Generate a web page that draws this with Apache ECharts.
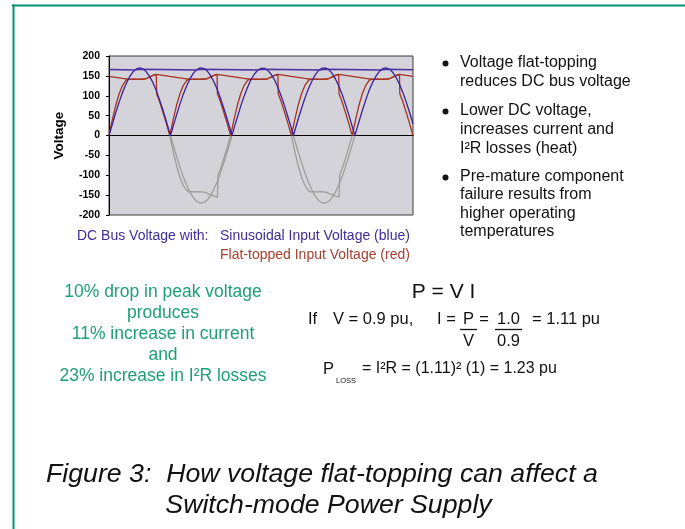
<!DOCTYPE html>
<html>
<head>
<meta charset="utf-8">
<script src="https://cdn.jsdelivr.net/npm/echarts/dist/echarts.min.js"></script>
<style>
html,body{margin:0;padding:0;background:#fff;}
#c{width:685px;height:529px;}
</style>
</head>
<body>
<div id="c"></div>
<script>
// ---------- data (x = phase in degrees of the 60 Hz input, y = volts) ----------
const yTickLabels = ['-200','-150','-100','-50','0','50','100','150','200'];

// rectified sinusoidal input (blue)
const blueInput = [
 [0,0],[10,29],[20,58],[30,84],[40,108],[50,129],[60,146],[70,159],[80,167],[90,170],[100,168],[110,161],[120,149],[130,133],[140,113],[150,89],[160,63],[170,35],[180,6],
 [182,0],[190,23],[200,52],[210,79],[220,104],[230,125],[240,143],[250,157],[260,166],[270,170],[280,169],[290,163],[300,152],[310,136],[320,117],[330,94],[340,68],[350,41],[360,12],
 [364,0],[370,18],[380,46],[390,74],[400,99],[410,121],[420,140],[430,154],[440,164],[450,169],[460,169],[470,164],[480,154],[490,140],[500,121],[510,99],[520,74],[530,46],[540,18],
 [546,0],[550,12],[560,41],[570,68],[580,94],[590,117],[600,136],[610,152],[620,163],[630,169],[640,170],[650,166],[660,157],[670,143],[680,125],[690,104],[700,79],[710,52],[720,23],
 [728,0],[730,6],[740,35],[750,63],[760,89],[770,113],[780,133],[790,149],[800,161],[810,168],[820,170],[830,167],[840,159],[850,146],[860,129],[870,108],[880,84],[890,58],[900,29]
];
// DC bus voltage with sinusoidal input (blue)
const blueBus = [
 [0,166],[78,164.8],[92,166.8],[260,164.8],[274,166.8],[442,164.8],[456,166.8],[624,164.8],[638,166.8],[806,164.8],[820,166.8],[900,165.6]
];
// rectified flat-topped input (red)
const redInput = [
 [0,0],[10,40],[20,76],[30,105],[40,126],[50,138],[57,142],[65,141],[75,142],[85,141],[95,142],[105,142],[112,144],[120,147],[130,151],[140,154],[141,105],[150,85],[160,58],[170,30],
 [180,0],[190,40],[200,76],[210,105],[220,126],[230,138],[237,142],[245,141],[255,142],[265,141],[275,142],[285,142],[292,144],[300,147],[310,151],[320,154],[321,105],[330,85],[340,58],[350,30],
 [360,0],[370,40],[380,76],[390,105],[400,126],[410,138],[417,142],[425,141],[435,142],[445,141],[455,142],[465,142],[472,144],[480,147],[490,151],[500,154],[501,105],[510,85],[520,58],[530,30],
 [540,0],[550,40],[560,76],[570,105],[580,126],[590,138],[597,142],[605,141],[615,142],[625,141],[635,142],[645,142],[652,144],[660,147],[670,151],[680,154],[681,105],[690,85],[700,58],[710,30],
 [720,0],[730,40],[740,76],[750,105],[760,126],[770,138],[777,142],[785,141],[795,142],[805,141],[815,142],[825,142],[832,144],[840,147],[850,151],[860,154],[861,105],[870,85],[880,58],[890,30],[900,0]
];
// DC bus voltage with flat-topped input (red)
const redBus = [
 [0,148.5],[20,146],[40,143.5],[57,141.5],[65,141],[75,142],[85,141],[95,142],[105,142],[112,144],[120,147],[130,151],[140,154],
 [180,148.5],[200,146],[220,143.5],[237,141.5],[245,141],[255,142],[265,141],[275,142],[285,142],[292,144],[300,147],[310,151],[320,154],
 [360,148.5],[380,146],[400,143.5],[417,141.5],[425,141],[435,142],[445,141],[455,142],[465,142],[472,144],[480,147],[490,151],[500,154],
 [540,148.5],[560,146],[580,143.5],[597,141.5],[605,141],[615,142],[625,141],[635,142],[645,142],[652,144],[660,147],[670,151],[680,154],
 [720,148.5],[740,146],[760,143.5],[777,141.5],[785,141],[795,142],[805,141],[815,142],[825,142],[832,144],[840,147],[850,151],[860,154],
 [900,148.5]
];
// negative half cycles of the raw inputs (grey)
const greySineA = [[182,0],[190,-23],[200,-52],[210,-79],[220,-104],[230,-125],[240,-143],[250,-157],[260,-166],[270,-170],[280,-169],[290,-163],[300,-152],[310,-136],[320,-117],[330,-94],[340,-68],[350,-41],[360,-12],[364,0]];
const greySineB = [[546,0],[550,-12],[560,-41],[570,-68],[580,-94],[590,-117],[600,-136],[610,-152],[620,-163],[630,-169],[640,-170],[650,-166],[660,-157],[670,-143],[680,-125],[690,-104],[700,-79],[710,-52],[720,-23],[728,0]];
const greyFlatA = [[180,0],[190,-40],[200,-76],[210,-105],[220,-126],[230,-138],[237,-142],[245,-141],[255,-142],[265,-141],[275,-142],[285,-143],[292,-146],[300,-149],[310,-152],[321,-155],[323,-98],[330,-85],[340,-58],[350,-30],[360,0]];
const greyFlatB = [[540,0],[550,-40],[560,-76],[570,-105],[580,-126],[590,-138],[597,-142],[605,-141],[615,-142],[625,-141],[635,-142],[645,-143],[652,-146],[660,-149],[670,-152],[681,-155],[683,-98],[690,-85],[700,-58],[710,-30],[720,0]];

// ---------- texts ----------
const bulletLines = [
 ['Voltage flat-topping','reduces DC bus voltage'],
 ['Lower DC voltage,','increases current and','I²R losses (heat)'],
 ['Pre-mature component','failure results from','higher operating','temperatures']
];
const greenLines = ['10% drop in peak voltage','produces','11% increase in current','and','23% increase in I²R losses'];
const captionLines = ['Figure 3:  How voltage flat-topping can affect a','Switch-mode Power Supply'];

// ---------- rendering ----------
const FF = "'Liberation Sans', Arial, sans-serif";
const BLUE = '#3b1f9c', RED = '#a8321f', GREY = '#9d9d9d';
const GREEN = '#1fa074';

function T(text, x, y, size, fill, align, font) {
  return {
    type: 'text', silent: true,
    style: { text: text, x: x, y: y, font: font || (size + 'px ' + FF),
      fill: fill, align: align || 'left', textAlign: align || 'left',
      verticalAlign: 'middle', textVerticalAlign: 'middle' }
  };
}

const graphics = [];
// green frame
graphics.push({type:'line', silent:true, shape:{x1:12,y1:5.5,x2:685,y2:5.5}, style:{stroke:'#07926f', lineWidth:2}});
graphics.push({type:'line', silent:true, shape:{x1:13.5,y1:4.5,x2:13.5,y2:529}, style:{stroke:'#07926f', lineWidth:2}});

// bullets
const bulletY = [[62.5,81.5],[110.5,129.5,148.5],[176.5,195,213.5,232]];
bulletLines.forEach(function(lines, i){
  graphics.push({type:'circle', silent:true, shape:{cx:445.5, cy:bulletY[i][0]+1, r:3}, style:{fill:'#111'}});
  lines.forEach(function(s, j){ graphics.push(T(s, 460, bulletY[i][j], 16, '#111', 'left')); });
});

// legend caption under the plot
graphics.push(T('DC Bus Voltage with:', 77, 236.5, 14, '#3f2c98', 'left'));
graphics.push(T('Sinusoidal Input Voltage (blue)', 220, 236.5, 14, '#3f2c98', 'left'));
graphics.push(T('Flat-topped Input Voltage (red)', 220, 255, 14, '#a3402f', 'left'));

// green text block
const greenY = [292, 313, 334, 355, 376];
greenLines.forEach(function(s, i){ graphics.push(T(s, 163, greenY[i], 17.5, GREEN, 'center')); });

// equations
graphics.push(T('P = V I', 443.5, 292, 21, '#111', 'center'));
graphics.push(T('If', 308, 319, 16.5, '#111', 'left'));
graphics.push(T('V = 0.9 pu,', 333, 319, 16.5, '#111', 'left'));
graphics.push(T('I =', 437, 319, 16.5, '#111', 'left'));
graphics.push(T('P', 468.5, 319, 16.5, '#111', 'center'));
graphics.push(T('=', 484, 319, 16.5, '#111', 'center'));
graphics.push(T('1.0', 508.5, 319, 16.5, '#111', 'center'));
graphics.push(T('= 1.11 pu', 532, 319, 16.5, '#111', 'left'));
graphics.push({type:'line', silent:true, shape:{x1:460,y1:329.5,x2:477,y2:329.5}, style:{stroke:'#111', lineWidth:1.3}});
graphics.push({type:'line', silent:true, shape:{x1:495,y1:329.5,x2:522,y2:329.5}, style:{stroke:'#111', lineWidth:1.3}});
graphics.push(T('V', 468.5, 341, 16.5, '#111', 'center'));
graphics.push(T('0.9', 508.5, 341, 16.5, '#111', 'center'));
graphics.push(T('P', 323, 369, 16.5, '#111', 'left'));
graphics.push(T('LOSS', 336, 381, 7.5, '#111', 'left'));
graphics.push(T('= I²R = (1.11)² (1) = 1.23 pu', 362, 369, 16, '#111', 'left'));

// figure caption
graphics.push(T(captionLines[0], 46, 474.5, 26.7, '#111', 'left', 'italic 26.7px ' + FF));
graphics.push(T(captionLines[1], 328.5, 506, 26.7, '#111', 'center', 'italic 26.7px ' + FF));

function lineSeries(data, color, z, w) {
  return { type:'line', data:data, showSymbol:false, symbol:'none', z:z,
    lineStyle:{color:color, width:w || 1.3}, itemStyle:{color:color}, animation:false, silent:true };
}

const chart = echarts.init(document.getElementById('c'), null, {renderer:'canvas'});
chart.setOption({
  animation: false,
  backgroundColor: '#ffffff',
  grid: { left:109, top:56, width:304, height:159, show:true, backgroundColor:'#d3d3d9', borderColor:'#3a3a3a', borderWidth:1 },
  xAxis: { type:'value', min:0, max:900, axisLabel:{show:false}, axisTick:{show:false}, splitLine:{show:false},
    axisLine:{show:true, onZero:true, lineStyle:{color:'#000', width:1}} },
  yAxis: { type:'value', min:-200, max:200, interval:50,
    name:'Voltage', nameLocation:'middle', nameRotate:90, nameGap:43,
    nameTextStyle:{fontFamily:FF, fontWeight:'bold', fontSize:13.5, color:'#000'},
    axisLine:{show:true, onZero:false, lineStyle:{color:'#000', width:1}},
    axisTick:{show:true, length:3, lineStyle:{color:'#000'}},
    splitLine:{show:false},
    axisLabel:{margin:9, fontFamily:FF, fontWeight:'bold', fontSize:10.5, color:'#000',
      formatter:function(v){ const i = (v + 200) / 50; return yTickLabels[i] !== undefined ? yTickLabels[i] : String(v); } } },
  series: [
    lineSeries(greySineA, GREY, 1),
    lineSeries(greySineB, GREY, 1),
    lineSeries(greyFlatA, GREY, 1),
    lineSeries(greyFlatB, GREY, 1),
    lineSeries(redInput, RED, 2),
    lineSeries(redBus, RED, 2),
    lineSeries(blueInput, BLUE, 3),
    lineSeries(blueBus, '#4a2ea4', 3, 1.5)
  ],
  graphic: graphics
});
</script>
</body>
</html>
